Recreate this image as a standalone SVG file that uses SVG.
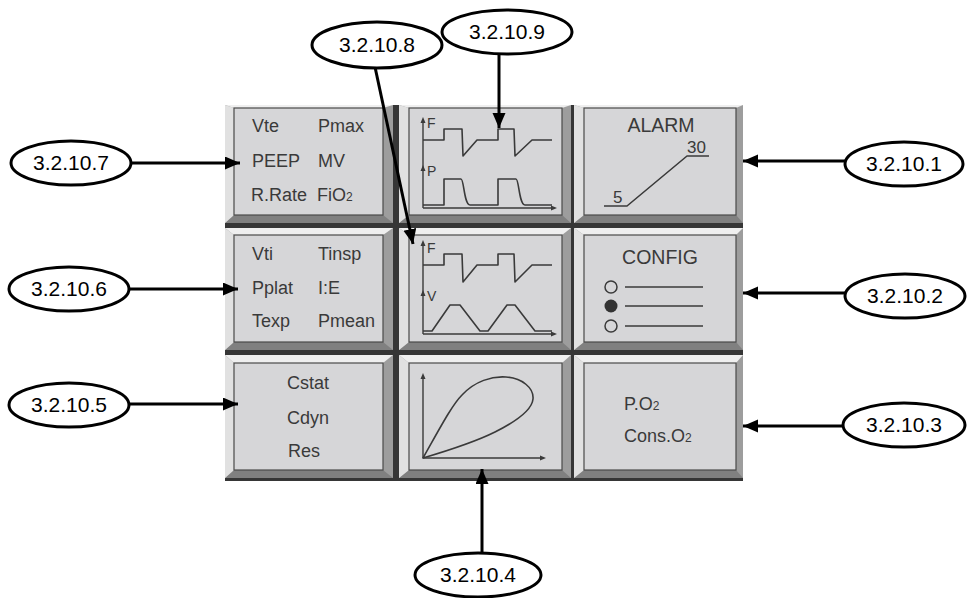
<svg xmlns="http://www.w3.org/2000/svg" width="969" height="598" viewBox="0 0 969 598">
<style>
.lt{fill:#efefef}.lf{fill:#e1e1e1}.rt{fill:#9d9d9d}.bt{fill:#808080}
.in{fill:#d6d6d8;stroke:#4a4a4a;stroke-width:1.2}
.t{font-family:"Liberation Sans",Arial,sans-serif;font-size:18px;fill:#3a3a3a}
.s{font-size:12px}
.sm{font-family:"Liberation Sans",Arial,sans-serif;font-size:14px;fill:#3a3a3a}
.w{fill:none;stroke:#3a3a3a;stroke-width:1.6;stroke-linejoin:round}
.ax{fill:none;stroke:#3a3a3a;stroke-width:1.4}
.ah{fill:#3a3a3a}
.el{fill:#fff;stroke:#000;stroke-width:3}
.lb{font-family:"Liberation Sans",Arial,sans-serif;font-size:21px;fill:#000;text-anchor:middle}
.cn{fill:none;stroke:#000;stroke-width:3}
</style>
<defs>
<marker id="arr" markerUnits="userSpaceOnUse" markerWidth="16" markerHeight="14" refX="15" refY="6.5" orient="auto">
<path d="M0,0 L15,6.5 L0,13 z" fill="#000"/>
</marker>
</defs>

<rect x="225" y="105" width="518" height="376" fill="#363636"/>

<!-- Row 1 -->
<g id="cell-params1">
<rect x="225" y="105" width="168" height="118" class="rt"/>
<polygon points="225,223 234,215 383,215 393,223" class="bt"/>
<polygon points="225,105 393,105 383,108 234,108" class="lt"/>
<polygon points="225,105 234,108 234,215 225,223" class="lf"/>
<rect x="234" y="108" width="149" height="107" class="in"/>
<text class="t" x="252" y="132">Vte</text>
<text class="t" x="318" y="132">Pmax</text>
<text class="t" x="252" y="167">PEEP</text>
<text class="t" x="318" y="167">MV</text>
<text class="t" x="251" y="201">R.Rate</text>
<text class="t" x="317" y="201">FiO<tspan class="s">2</tspan></text>
</g>

<g id="cell-fp">
<rect x="399" y="105" width="172" height="118" class="rt"/>
<polygon points="399,223 409,215 562,215 571,223" class="bt"/>
<polygon points="399,105 571,105 562,108 409,108" class="lt"/>
<polygon points="399,105 409,108 409,215 399,223" class="lf"/>
<rect x="409" y="108" width="153" height="107" class="in"/>
<line x1="423" y1="122" x2="423" y2="208" class="ax"/>
<polygon points="420.5,123 423,117 425.5,123" class="ah"/>
<text class="sm" x="427" y="128">F</text>
<polyline points="423,140 444,140 444,129 462,129 463,156 477,140 498,140 498,129 514,129 515,156 532,140 552,140" class="w"/>
<polygon points="420.5,171 423,165 425.5,171" class="ah"/>
<text class="sm" x="427" y="176">P</text>
<line x1="423" y1="208" x2="552" y2="208" class="ax"/>
<polygon points="551,205.5 557,208 551,210.5" class="ah"/>
<path d="M423,205 L444,205 L444,179 L461,179 C464,179 464,205 470,205 L498,205 L498,179 L516,179 C519,179 519,205 525,205 L552,205" class="w"/>
</g>

<g id="cell-alarm">
<rect x="574" y="105" width="169" height="118" class="rt"/>
<polygon points="574,223 584,215 736,215 743,223" class="bt"/>
<polygon points="574,105 743,105 736,108 584,108" class="lt"/>
<polygon points="574,105 584,108 584,215 574,223" class="lf"/>
<rect x="584" y="108" width="152" height="107" class="in"/>
<text class="t" x="661" y="132" text-anchor="middle" style="font-size:19.5px">ALARM</text>
<text class="t" x="687" y="153" style="font-size:17px">30</text>
<text class="t" x="613" y="203" style="font-size:17px">5</text>
<polyline points="604,206 627,206 687,156 709,156" class="w"/>
</g>

<!-- Row 2 -->
<g id="cell-params2">
<rect x="225" y="228" width="168" height="122" class="rt"/>
<polygon points="225,350 234,342 383,342 393,350" class="bt"/>
<polygon points="225,228 393,228 383,235 234,235" class="lt"/>
<polygon points="225,228 234,235 234,342 225,350" class="lf"/>
<rect x="234" y="235" width="149" height="107" class="in"/>
<text class="t" x="252" y="260">Vti</text>
<text class="t" x="318" y="260">Tinsp</text>
<text class="t" x="252" y="294">Pplat</text>
<text class="t" x="318" y="294">I:E</text>
<text class="t" x="252" y="327">Texp</text>
<text class="t" x="318" y="327">Pmean</text>
</g>

<g id="cell-fv">
<rect x="399" y="228" width="172" height="122" class="rt"/>
<polygon points="399,350 409,342 562,342 571,350" class="bt"/>
<polygon points="399,228 571,228 562,235 409,235" class="lt"/>
<polygon points="399,228 409,235 409,342 399,350" class="lf"/>
<rect x="409" y="235" width="153" height="107" class="in"/>
<line x1="423" y1="245" x2="423" y2="334" class="ax"/>
<polygon points="420.5,246 423,240 425.5,246" class="ah"/>
<text class="sm" x="427" y="253">F</text>
<polyline points="423,265 444,265 444,254 462,254 463,282 477,265 498,265 498,254 514,254 515,282 532,265 552,265" class="w"/>
<polygon points="420.5,296 423,290 425.5,296" class="ah"/>
<text class="sm" x="427" y="301">V</text>
<line x1="423" y1="334" x2="552" y2="334" class="ax"/>
<polygon points="551,331.5 557,334 551,336.5" class="ah"/>
<polyline points="423,331 432,331 450,305 460,305 480,331 488,331 507,305 515,305 535,331 552,331" class="w"/>
</g>

<g id="cell-config">
<rect x="574" y="228" width="169" height="122" class="rt"/>
<polygon points="574,350 584,342 736,342 743,350" class="bt"/>
<polygon points="574,228 743,228 736,235 584,235" class="lt"/>
<polygon points="574,228 584,235 584,342 574,350" class="lf"/>
<rect x="584" y="235" width="152" height="107" class="in"/>
<text class="t" x="660" y="264" text-anchor="middle" style="font-size:19.5px">CONFIG</text>
<circle cx="611" cy="287" r="6" fill="none" stroke="#3a3a3a" stroke-width="1.5"/>
<circle cx="611" cy="306" r="6.5" fill="#333"/>
<circle cx="611" cy="326" r="6" fill="none" stroke="#3a3a3a" stroke-width="1.5"/>
<line x1="625" y1="287" x2="703" y2="287" class="w"/>
<line x1="625" y1="306" x2="703" y2="306" class="w"/>
<line x1="625" y1="326" x2="703" y2="326" class="w"/>
</g>

<!-- Row 3 -->
<g id="cell-compliance">
<rect x="225" y="355" width="168" height="123" class="rt"/>
<polygon points="225,478 234,470 383,470 393,478" class="bt"/>
<polygon points="225,355 393,355 383,363 234,363" class="lt"/>
<polygon points="225,355 234,363 234,470 225,478" class="lf"/>
<rect x="234" y="363" width="149" height="107" class="in"/>
<text class="t" x="287" y="389">Cstat</text>
<text class="t" x="287" y="424">Cdyn</text>
<text class="t" x="288" y="457">Res</text>
</g>

<g id="cell-loop">
<rect x="399" y="355" width="172" height="123" class="rt"/>
<polygon points="399,478 409,470 562,470 571,478" class="bt"/>
<polygon points="399,355 571,355 562,363 409,363" class="lt"/>
<polygon points="399,355 409,363 409,470 399,478" class="lf"/>
<rect x="409" y="363" width="153" height="107" class="in"/>
<line x1="423" y1="378" x2="423" y2="458" class="ax"/>
<polygon points="420.5,379 423,373 425.5,379" class="ah"/>
<line x1="423" y1="458" x2="541" y2="458" class="ax"/>
<polygon points="540,455.5 546,458 540,460.5" class="ah"/>
<path d="M423,458 C440,428 452,405 462,395 C475,381 492,376 506,377 C522,378 534,388 533,399 C532,410 515,422 495,432 C475,442 450,450 423,458 Z" class="w"/>
</g>

<g id="cell-o2">
<rect x="574" y="355" width="169" height="123" class="rt"/>
<polygon points="574,478 584,470 736,470 743,478" class="bt"/>
<polygon points="574,355 743,355 736,363 584,363" class="lt"/>
<polygon points="574,355 584,363 584,470 574,478" class="lf"/>
<rect x="584" y="363" width="152" height="107" class="in"/>
<text class="t" x="624" y="410">P.O<tspan class="s">2</tspan></text>
<text class="t" x="624" y="442">Cons.O<tspan class="s">2</tspan></text>
</g>

<!-- Connectors -->
<g id="connectors">
<line x1="132" y1="163" x2="240" y2="163" class="cn" marker-end="url(#arr)"/>
<line x1="130" y1="289" x2="238" y2="289" class="cn" marker-end="url(#arr)"/>
<line x1="130" y1="404" x2="238" y2="404" class="cn" marker-end="url(#arr)"/>
<line x1="845" y1="161" x2="743" y2="161" class="cn" marker-end="url(#arr)"/>
<line x1="845" y1="293" x2="743" y2="293" class="cn" marker-end="url(#arr)"/>
<line x1="843" y1="426" x2="743" y2="426" class="cn" marker-end="url(#arr)"/>
<line x1="482" y1="553" x2="482" y2="469" class="cn" marker-end="url(#arr)"/>
<line x1="375" y1="67" x2="413" y2="244" class="cn" marker-end="url(#arr)"/>
<line x1="499" y1="54" x2="499" y2="128" class="cn" marker-end="url(#arr)"/>
</g>

<!-- Labels -->
<g id="label-3.2.10.7"><ellipse cx="71" cy="163" rx="60" ry="22" class="el"/><text class="lb" x="71" y="170">3.2.10.7</text></g>
<g id="label-3.2.10.6"><ellipse cx="69" cy="289" rx="60" ry="22" class="el"/><text class="lb" x="69" y="296">3.2.10.6</text></g>
<g id="label-3.2.10.5"><ellipse cx="69" cy="405" rx="60" ry="22" class="el"/><text class="lb" x="69" y="412">3.2.10.5</text></g>
<g id="label-3.2.10.1"><ellipse cx="904" cy="164" rx="59" ry="22" class="el"/><text class="lb" x="904" y="171">3.2.10.1</text></g>
<g id="label-3.2.10.2"><ellipse cx="905" cy="296" rx="60" ry="22" class="el"/><text class="lb" x="905" y="303">3.2.10.2</text></g>
<g id="label-3.2.10.3"><ellipse cx="904" cy="425" rx="61" ry="22" class="el"/><text class="lb" x="904" y="432">3.2.10.3</text></g>
<g id="label-3.2.10.4"><ellipse cx="478" cy="575" rx="63" ry="22" class="el"/><text class="lb" x="478" y="582">3.2.10.4</text></g>
<g id="label-3.2.10.8"><ellipse cx="377" cy="45" rx="65" ry="23" class="el"/><text class="lb" x="377" y="52">3.2.10.8</text></g>
<g id="label-3.2.10.9"><ellipse cx="507" cy="32" rx="65" ry="22" class="el"/><text class="lb" x="507" y="39">3.2.10.9</text></g>
</svg>
